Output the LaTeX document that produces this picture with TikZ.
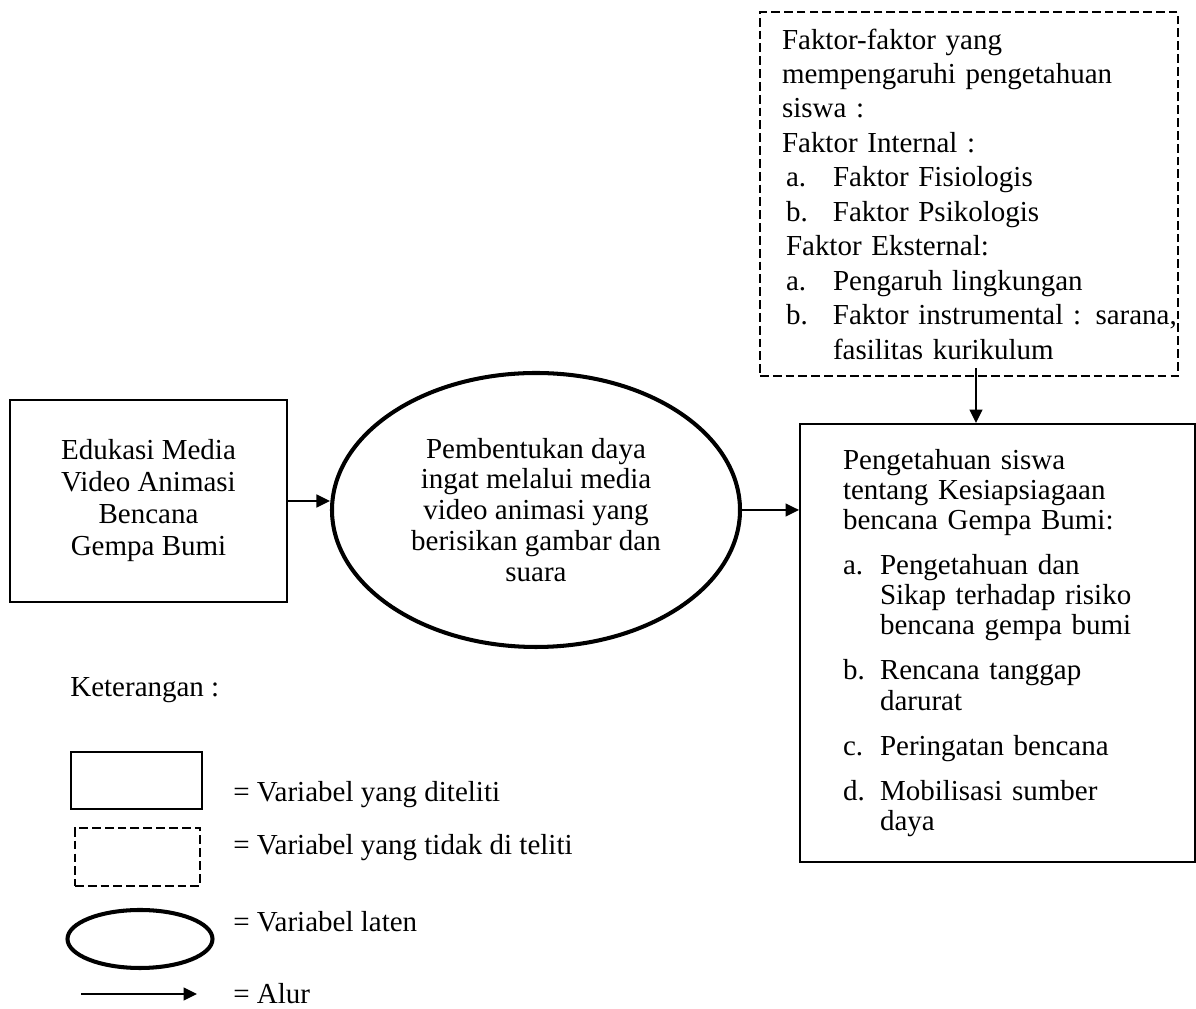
\documentclass[tikz,border=0pt]{standalone}
\usepackage{fontspec}
\setmainfont{Liberation Serif}
\usetikzlibrary{shapes.geometric, arrows.meta}

\begin{document}
\begin{tikzpicture}[
    every node/.style={font=\fontsize{16.5}{18.2}\selectfont},
    box/.style={rectangle, draw, line width=1.1pt, align=center, inner sep=0pt},
    dashbox/.style={rectangle, draw, line width=1.1pt, dash pattern=on 5pt off 2.3pt, inner sep=0pt},
    latent/.style={ellipse, draw, line width=2.3pt, align=center, inner sep=0pt},
    lbl/.style={anchor=west, inner sep=0pt},
    arrow/.style={-{Triangle[length=0.27cm, width=0.26cm]}, line width=0.8pt}
]
\useasboundingbox (0,0) rectangle (23.92,20.18);

% Alur utama
\node[box, minimum width=5.54cm, minimum height=4.04cm] (edukasi) at (2.97, 10.16) {Edukasi Media\\ Video Animasi\\ Bencana\\ Gempa Bumi};
\node[latent, minimum width=8.16cm, minimum height=5.48cm, font=\fontsize{16.5}{17.6}\selectfont] (daya) at (10.72, 9.98) {Pembentukan daya\\ ingat melalui media\\ video animasi yang\\ berisikan gambar dan\\ suara};
\node[box, align=left, text width=6.18cm, inner xsep=0.86cm, minimum height=8.76cm, font=\fontsize{16.5}{17.1}\selectfont] (pengetahuan) at (19.95, 7.32) {Pengetahuan siswa\\ tentang Kesiapsiagaan\\ bencana Gempa Bumi:\\[0.3cm]
  \makebox[0.74cm][l]{a.}Pengetahuan dan\\ \hspace*{0.74cm}Sikap terhadap risiko\\ \hspace*{0.74cm}bencana gempa bumi\\[0.3cm]
  \makebox[0.74cm][l]{b.}Rencana tanggap\\ \hspace*{0.74cm}darurat\\[0.3cm]
  \makebox[0.74cm][l]{c.}Peringatan bencana\\[0.3cm]
  \makebox[0.74cm][l]{d.}Mobilisasi sumber\\ \hspace*{0.74cm}daya};

% Faktor yang tidak diteliti
\node[dashbox, align=left, text width=7.48cm, inner xsep=0.44cm, minimum height=7.28cm, font=\fontsize{16.5}{19.6}\selectfont] (faktor) at (19.38, 16.3) {Faktor-faktor yang\\ mempengaruhi pengetahuan\\ siswa :\\ Faktor Internal :\\
  \hspace*{0.08cm}\makebox[0.94cm][l]{a.}Faktor Fisiologis\\
  \hspace*{0.08cm}\makebox[0.94cm][l]{b.}Faktor Psikologis\\
  \hspace*{0.08cm}Faktor Eksternal:\\
  \hspace*{0.08cm}\makebox[0.94cm][l]{a.}Pengaruh lingkungan\\
  \hspace*{0.08cm}\makebox[0.94cm][l]{b.}\makebox[6.86cm][s]{Faktor instrumental : sarana,}\\
  \hspace*{1.02cm}fasilitas kurikulum};

% Arrows
\draw[arrow] (edukasi.east) -- (edukasi.east -| daya.west);
\draw[arrow] (daya.east) -- (daya.east -| pengetahuan.west);
\draw[arrow] ([xshift=0.14cm, yshift=0.18cm]faktor.south) -- ([xshift=0.14cm]faktor.south |- pengetahuan.north);

% Keterangan
\node[lbl] (ket) at (1.4, 6.38) {Keterangan :};
\node[box, minimum width=2.62cm, minimum height=1.14cm] (lgbox) at (2.73, 4.57) {};
\node[lbl] (lgboxtxt) at (4.66, 4.28) {= Variabel yang diteliti};
\node[dashbox, minimum width=2.5cm, minimum height=1.16cm] (lgdash) at (2.75, 3.04) {};
\node[lbl] (lgdashtxt) at (4.66, 3.22) {= Variabel yang tidak di teliti};
\node[latent, minimum width=2.9cm, minimum height=1.16cm] (lglatent) at (2.8, 1.4) {};
\node[lbl] (lglatenttxt) at (4.66, 1.74) {= Variabel laten};
\coordinate (alurA) at (1.62, 0.3);
\coordinate (alurB) at (3.94, 0.3);
\draw[arrow] (alurA) -- (alurB);
\node[lbl] (alurtxt) at (4.66, 0.3) {= Alur};

\end{tikzpicture}
\end{document}
